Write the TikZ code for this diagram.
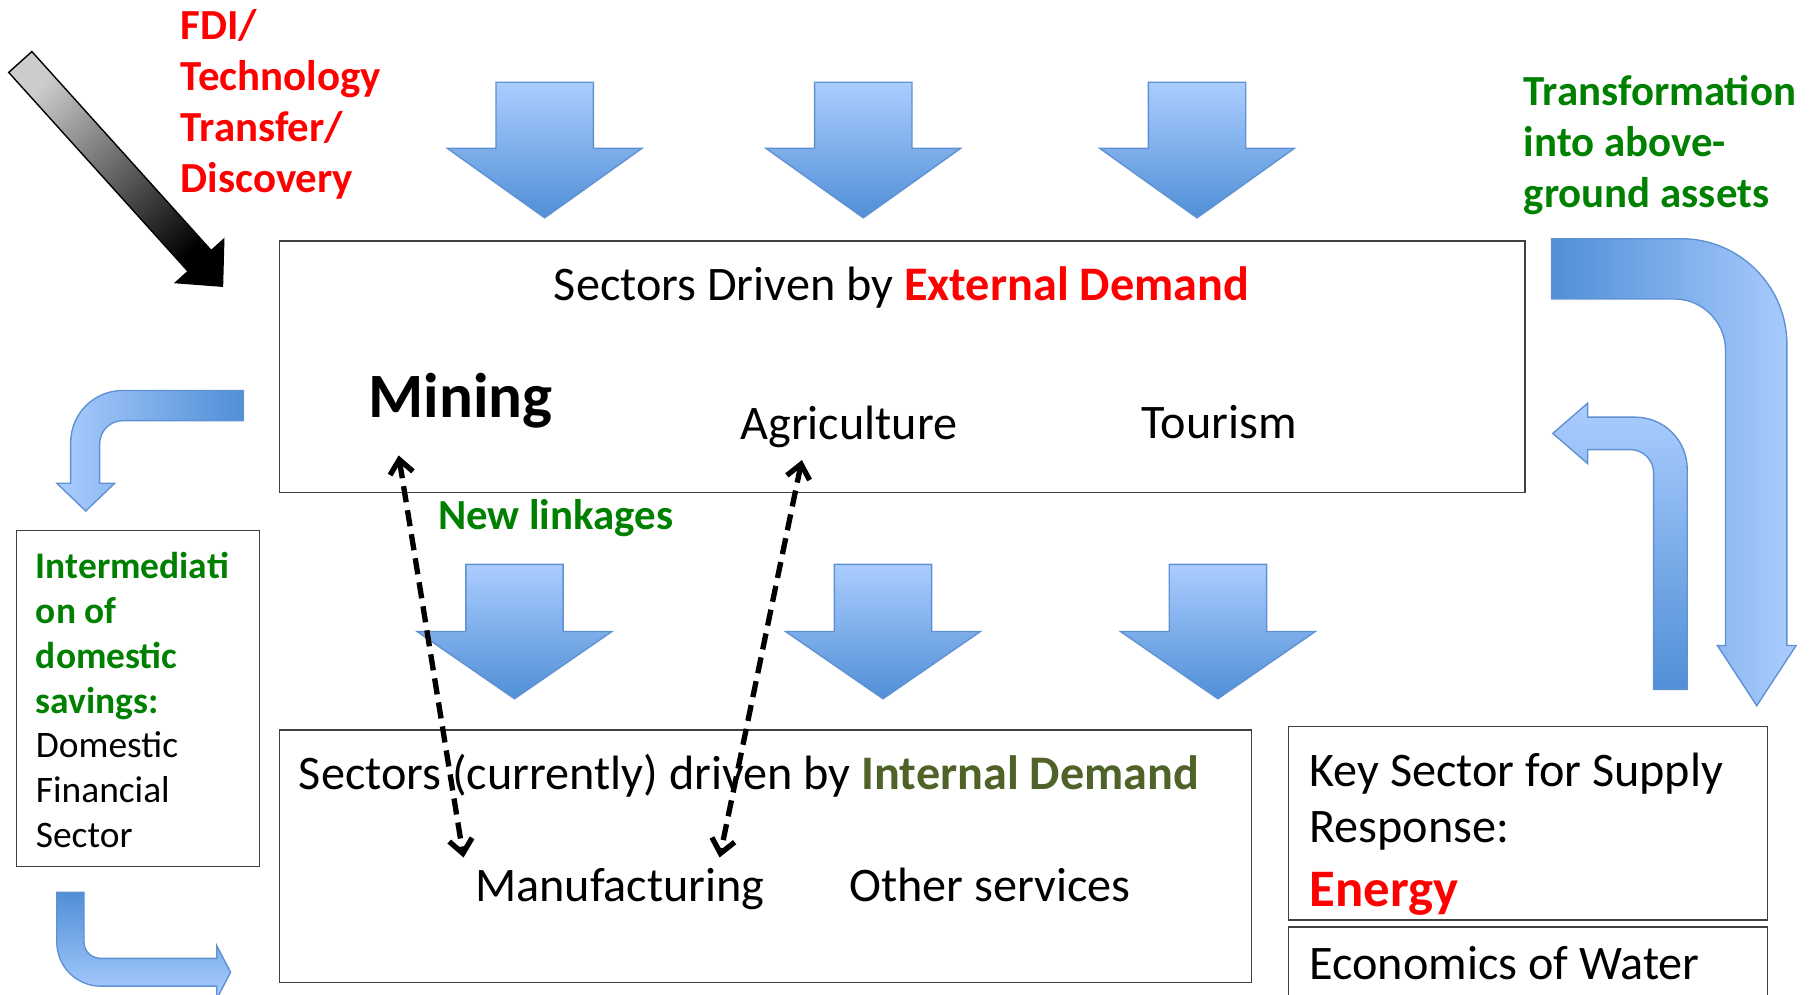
\documentclass[tikz,border=0pt]{standalone}
\usepackage{fontspec}
\setmainfont{Carlito}
\usepackage{xcolor}
\usetikzlibrary{positioning, arrows.meta}

\definecolor{flowlight}{RGB}{171,205,255}
\definecolor{flowdark}{RGB}{80,143,214}
\definecolor{flowedge}{RGB}{96,145,210}
\definecolor{linkgreen}{RGB}{0,128,0}
\definecolor{demandolive}{RGB}{79,98,40}

\begin{document}
\begin{tikzpicture}[
  x=1pt, y=-1pt,
  every node/.style={inner sep=0pt, outer sep=0pt, font=\fontsize{41.6}{48}\selectfont},
  sectorbox/.style={draw=black!75, line width=1.1pt, anchor=north west},
  flow/.style={draw=flowedge, line width=1.2pt},
  blockdown/.style={flow, top color=flowlight, bottom color=flowdark},
  push/.style={draw=black, line width=1.2pt, top color=black!20, bottom color=black, shading angle=45},
  callout/.style={anchor=north west, align=left, font=\fontsize{37}{44}\selectfont\bfseries},
  link/.style={<->, >={Straight Barb[length=12pt, width=20pt]}, line width=4.6pt,
               dash pattern=on 14pt off 7pt}
]
\useasboundingbox (0,0) rectangle (1568,858);

% ── boxes ──────────────────────────────────────
\node[sectorbox, minimum width=1075pt, minimum height=217pt] (ext) at (241,208) {};
\node[sectorbox, minimum width=839pt, minimum height=218pt] (int) at (241,630) {};
\node[sectorbox, minimum width=210pt, minimum height=290pt] (fin) at (14,458) {};
\node[sectorbox, minimum width=413pt, minimum height=167pt] (key) at (1112,627) {};
\node[sectorbox, minimum width=413pt, minimum height=120pt] (water) at (1112,800) {};

% ── external demand ────────────────────────────
\node[anchor=base] (exthead) at (778,259)
  {Sectors Driven by \textcolor{red}{\bfseries External Demand}};
\node[anchor=base west, font=\fontsize{54.5}{60}\selectfont\bfseries] (mining) at (318,360) {Mining};
\node[anchor=base west] (agri) at (639,379) {Agriculture};
\node[anchor=base west] (tour) at (985,378) {Tourism};

% ── internal demand ────────────────────────────
\node[anchor=base west] (inthead) at (258,681)
  {Sectors (currently) driven by \textcolor{demandolive}{\bfseries Internal Demand}};
\node[anchor=base west] (manuf) at (410,778) {Manufacturing};
\node[base right=73pt of manuf] (other) {Other services};

% ── side boxes ─────────────────────────────────
\node[anchor=north west, align=left, font=\fontsize{32.3}{38.7}\selectfont] (fintext) at (31,476.5)
  {\textcolor{linkgreen}{\bfseries Intermediati}\\
   \textcolor{linkgreen}{\bfseries on of}\\
   \textcolor{linkgreen}{\bfseries domestic}\\
   \textcolor{linkgreen}{\bfseries savings:}\\
   Domestic\\Financial\\Sector};
\node[anchor=north west, align=left] (keytext) at (1130,650)
  {Key Sector for Supply\\Response:\\[7pt]
   \textcolor{red}{\fontsize{45.5}{54}\selectfont\bfseries Energy}};
\node[anchor=base west] (watertext) at (1130,845) {Economics of Water};

% ── callouts ───────────────────────────────────
\node[callout, text=red] (fdi) at (156,8) {FDI/\\Technology\\Transfer/\\Discovery};
\node[callout, text=linkgreen] (assets) at (1315,65) {Transformation\\into above-\\ground assets};
\node[anchor=base west, font=\fontsize{37}{44}\selectfont\bfseries, text=linkgreen]
  (newlink) at (378,457) {New linkages};

% ── demand arrows ──────────────────────────────
\foreach \cx in {470,745,1033}
  \path[blockdown] (\cx-42,71) -- (\cx+42,71) -- (\cx+42,128) -- (\cx+84,128)
    -- (\cx,188) -- (\cx-84,128) -- (\cx-42,128) -- cycle;
\foreach \cx in {444,762,1051}
  \path[blockdown] (\cx-42,487) -- (\cx+42,487) -- (\cx+42,545) -- (\cx+84,545)
    -- (\cx,603) -- (\cx-84,545) -- (\cx-42,545) -- cycle;

% ── bent flows ─────────────────────────────────
\path[flow, left color=flowdark, right color=flowlight] (1339,206) -- (1451,206)
  .. controls (1501,206) and (1542,247) .. (1542,297) -- (1542,557) -- (1550,557)
  -- (1516,609) -- (1482,557) -- (1489,557) -- (1489,302)
  .. controls (1489,278) and (1469,258) .. (1445,258) -- (1339,258) -- cycle;
\path[flow, top color=flowlight, bottom color=flowdark] (1427,595) -- (1456,595) -- (1456,405)
  .. controls (1456,380) and (1436,360) .. (1411,360) -- (1370,360) -- (1370,348)
  -- (1340,374) -- (1370,400) -- (1370,388) -- (1407,388)
  .. controls (1418,388) and (1427,397) .. (1427,408) -- cycle;
\path[flow, left color=flowlight, right color=flowdark] (210,337) -- (106,337)
  .. controls (81,337) and (61,357) .. (61,382) -- (61,417) -- (49,417) -- (74,441)
  -- (99,417) -- (86,417) -- (86,383) .. controls (86,372) and (95,363) .. (106,363)
  -- (210,363) -- cycle;
\path[flow, top color=flowdark, bottom color=flowlight] (49,770) -- (49,813)
  .. controls (49,834) and (66,851) .. (87,851) -- (187,851) -- (187,862) -- (199,839)
  -- (187,816) -- (187,827) -- (87,827) .. controls (79,827) and (72.5,821) .. (72.5,813)
  -- (72.5,770) -- cycle;

% ── discovery push ─────────────────────────────
\path[push] (7.5,62.5) -- (27.5,44.5) -- (182.3,216.2) -- (193.1,206.5) -- (192,247)
  -- (151.5,243.9) -- (162.3,234.2) -- cycle;

% ── linkages ───────────────────────────────────
\coordinate (minelink) at (344,393);
\coordinate (agrilink) at (692,397);
\coordinate (manleft) at (400,740);
\coordinate (manright) at (621,740);
\draw[link] (minelink) -- (manleft);
\draw[link] (agrilink) -- (manright);
\end{tikzpicture}
\end{document}
